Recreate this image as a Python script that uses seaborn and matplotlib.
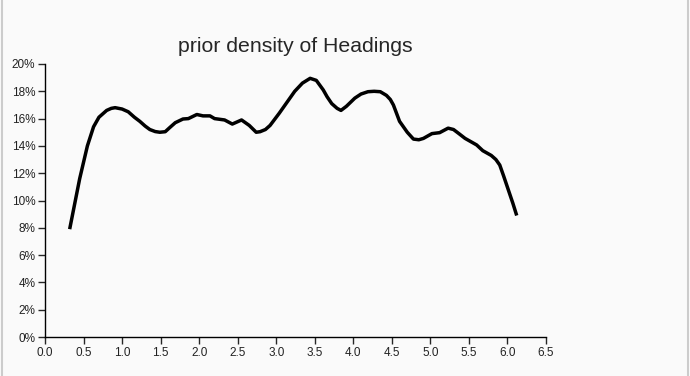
import numpy as np
import pandas as pd
import matplotlib
matplotlib.use("Agg")
import matplotlib.pyplot as plt
from matplotlib.ticker import PercentFormatter, MultipleLocator
from matplotlib.lines import Line2D
import seaborn as sns

# ---- data ----
heading = [0.32, 0.45, 0.55, 0.63, 0.70, 0.80, 0.86, 0.91, 1.00, 1.08, 1.16, 1.23,
           1.30, 1.36, 1.43, 1.49, 1.56, 1.62, 1.69, 1.79, 1.86, 1.97, 2.05, 2.14,
           2.20, 2.33, 2.43, 2.55, 2.65, 2.74, 2.79, 2.86, 2.92, 3.04, 3.14, 3.24,
           3.34, 3.44, 3.52, 3.61, 3.66, 3.72, 3.79, 3.84, 3.91, 4.02, 4.10, 4.19,
           4.27, 4.35, 4.43, 4.48, 4.52, 4.60, 4.70, 4.78, 4.85, 4.91, 5.02, 5.12,
           5.23, 5.30, 5.37, 5.45, 5.60, 5.68, 5.79, 5.85, 5.90, 5.95, 6.01, 6.07,
           6.12]
density = [7.9, 11.6, 14.0, 15.4, 16.1, 16.6, 16.75, 16.8, 16.7, 16.5, 16.1, 15.8,
           15.45, 15.2, 15.05, 15.0, 15.04, 15.35, 15.7, 15.97, 16.0, 16.3, 16.2, 16.2,
           16.0, 15.9, 15.6, 15.9, 15.5, 15.0, 15.04, 15.2, 15.5, 16.4, 17.2, 18.0,
           18.6, 18.95, 18.8, 18.1, 17.6, 17.1, 16.75, 16.6, 16.9, 17.5, 17.8, 17.97,
           18.0, 17.97, 17.7, 17.4, 17.0, 15.8, 15.0, 14.5, 14.45, 14.55, 14.9, 14.97,
           15.3, 15.2, 14.9, 14.55, 14.07, 13.65, 13.3, 13.0, 12.6, 11.8, 10.8, 9.8,
           8.9]

df = pd.DataFrame({"heading": heading, "density": density})

sns.set_style("ticks")
plt.rcParams['font.family'] = ['Liberation Sans', 'DejaVu Sans']

fig = plt.figure(figsize=(6.9, 3.76), dpi=100, facecolor="#fafafa")
ax = fig.add_axes([45 / 690, 1 - 337 / 376, 501 / 690, 273 / 376])
ax.set_facecolor("#fafafa")

sns.lineplot(data=df, x="heading", y="density", color="black", linewidth=2.5, ax=ax)
ax.lines[0].set_solid_joinstyle("round")
ax.lines[0].set_solid_capstyle("butt")

ax.set_xlim(0, 6.5)
ax.set_ylim(0, 20)
ax.xaxis.set_major_locator(MultipleLocator(0.5))
ax.yaxis.set_major_locator(MultipleLocator(2))
ax.xaxis.set_major_formatter(plt.FormatStrFormatter("%.1f"))
ax.yaxis.set_major_formatter(PercentFormatter(decimals=0))
ax.tick_params(axis="both", direction="out", length=5, width=1, labelsize=8.5,
               labelcolor="#222222", pad=2)
ax.set_xlabel("")
ax.set_ylabel("")
for s in ["top", "right"]:
    ax.spines[s].set_visible(False)
for s in ["left", "bottom"]:
    ax.spines[s].set_linewidth(1)
    ax.spines[s].set_color("black")

fig.text(295 / 690, 1 - 47 / 376, "prior density of Headings", ha="center", va="center",
         fontsize=15.3)

# thin grey frame lines at the left and right edges
fig.add_artist(Line2D([2 / 690, 2 / 690], [0, 1], color="#cccccc", linewidth=1.5))
fig.add_artist(Line2D([687.5 / 690, 687.5 / 690], [0, 1], color="#cccccc", linewidth=1.5))

fig.savefig("out.png", dpi=100, facecolor=fig.get_facecolor())
